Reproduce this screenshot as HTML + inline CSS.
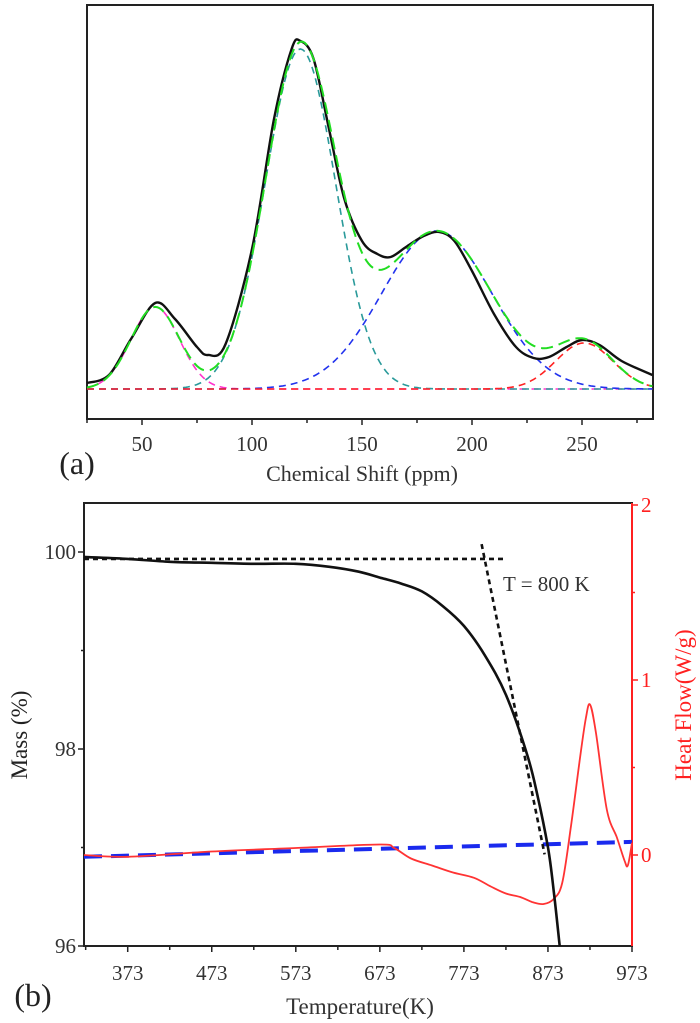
<!DOCTYPE html>
<html><head><meta charset="utf-8">
<style>
html,body{margin:0;padding:0;background:#fff;}
svg{display:block;font-family:"Liberation Serif",serif;}
</style></head>
<body>
<svg id="fig" width="700" height="1023" viewBox="0 0 700 1023" xmlns="http://www.w3.org/2000/svg"></svg>
<script>
// ---------- Panel (a) data ----------
const nmrTicks = [50, 100, 150, 200, 250];
const nmrShift = [25,35,45,56,65,75,80,88,100,110,118,122,128,135,142,150,157,163,170,178,185,192,200,210,220,228,235,243,250,258,268,282];
const nmrIntensity = [6,14,50,86,70,42,34,45,140,270,340,348,330,260,190,148,135,132,142,153,157,148,118,75,42,31,32,42,49,44,28,14];
const peakCenters = [56, 122, 184, 251];
const peakAmps = [82, 340, 158, 46];
const peakSigmas = [11, 16, 25, 13];
const peakColors = ['#ff33cc', '#2a9a9a', '#2233ee', '#ff2222'];

// ---------- Panel (b) data ----------
const tempTicks = [373, 473, 573, 673, 773, 873, 973];
const massTicks = [96, 98, 100];
const heatTicks = [0, 1, 2];
const massT = [321,373,423,473,523,573,613,648,673,698,723,748,773,798,823,848,860,873,880,887];
const massVal = [99.95,99.93,99.9,99.89,99.88,99.88,99.85,99.8,99.74,99.68,99.6,99.45,99.25,98.95,98.55,97.95,97.55,97.0,96.55,96.0];
const tangentT = [321, 820, 794, 869];
const tangentM = [99.93, 99.93, 100.08, 96.93];
const baseT = [321, 973];
const baseH = [-0.01, 0.075];
const heatT = [321,373,473,573,673,690,710,735,760,785,805,823,840,855,868,880,890,900,911,918,923,930,943,955,964,968,973];
const heatVal = [0,-0.01,0.02,0.04,0.06,0.04,-0.02,-0.06,-0.1,-0.13,-0.18,-0.22,-0.24,-0.27,-0.28,-0.25,-0.16,0.15,0.55,0.78,0.86,0.7,0.26,0.1,-0.03,-0.06,0.07];

const NS = 'http://www.w3.org/2000/svg';
const svg = document.getElementById('fig');
function mk(tag, attrs, parent) {
  const e = document.createElementNS(NS, tag);
  for (const k in attrs) e.setAttribute(k, attrs[k]);
  (parent || svg).appendChild(e);
  return e;
}
function txt(s, attrs) { const t = mk('text', attrs); t.textContent = s; return t; }
function pathD(xs, ys) { return xs.map((v, i) => (i ? 'L' : 'M') + v.toFixed(1) + ',' + ys[i].toFixed(1)).join(''); }
function smoothD(xs, ys) {
  let d = 'M' + xs[0].toFixed(1) + ',' + ys[0].toFixed(1);
  for (let i = 0; i < xs.length - 1; i++) {
    const x0 = xs[Math.max(i - 1, 0)], y0 = ys[Math.max(i - 1, 0)];
    const x1 = xs[i], y1 = ys[i], x2 = xs[i + 1], y2 = ys[i + 1];
    const x3 = xs[Math.min(i + 2, xs.length - 1)], y3 = ys[Math.min(i + 2, xs.length - 1)];
    const c1x = x1 + (x2 - x0) / 6, c1y = y1 + (y2 - y0) / 6;
    const c2x = x2 - (x3 - x1) / 6, c2y = y2 - (y3 - y1) / 6;
    d += 'C' + c1x.toFixed(1) + ',' + c1y.toFixed(1) + ' ' + c2x.toFixed(1) + ',' + c2y.toFixed(1) + ' ' + x2.toFixed(1) + ',' + y2.toFixed(1);
  }
  return d;
}

// ---------- Panel (a) ----------
const aL = 87, aR = 653, aT = 5, aB = 419, aBase = 389;
const ax = p => aL + (p - 25) * 2.2;
const ay = v => aBase - v;
const gauss = (x, i) => peakAmps[i] * Math.exp(-Math.pow(x - peakCenters[i], 2) / (2 * peakSigmas[i] * peakSigmas[i]));
const grid = [];
for (let p = 25; p <= 282; p += 1) grid.push(p);

let e;
e = mk('rect', {x: aL, y: aT, width: aR - aL, height: aB - aT, fill: 'none', stroke: '#222', 'stroke-width': 2});



peakCenters.forEach((c, i) => {
  const ys = grid.map(p => ay(gauss(p, i)));
  const pth = mk('path', {d: pathD(grid.map(ax), ys), fill: 'none', stroke: peakColors[i], 'stroke-width': 1.6, 'stroke-dasharray': '7,5'});
  
  
});
const expPath = mk('path', {d: smoothD(nmrShift.map(ax), nmrIntensity.map(ay)), fill: 'none', stroke: '#111', 'stroke-width': 2.4, 'stroke-linejoin': 'round'});


const fitYs = grid.map(p => ay(peakCenters.reduce((s, c, i) => s + gauss(p, i), 0)));
const fitPath = mk('path', {d: pathD(grid.map(ax), fitYs), fill: 'none', stroke: '#22dd22', 'stroke-width': 2, 'stroke-dasharray': '12,6'});



for (let p = 25; p <= 275; p += 25) {
  const t = mk('line', {x1: ax(p), x2: ax(p), y1: aB, y2: aB + (p % 50 === 0 ? 6 : 4), stroke: '#222', 'stroke-width': 1.5});
  
  
}
nmrTicks.forEach(p => {
  const t = txt(String(p), {x: ax(p), y: 451, 'text-anchor': 'middle', 'font-size': 21, fill: '#333'});
  
  
});
e = txt('Chemical Shift (ppm)', {x: 362, y: 481, 'text-anchor': 'middle', 'font-size': 22, fill: '#333'});


e = txt('(a)', {x: 77, y: 474, 'text-anchor': 'middle', 'font-size': 32, fill: '#222'});



// ---------- Panel (b) ----------
const bL = 84, bR = 632, bT = 503, bB = 946;
const bx = t => bL + (t - 321) * (bR - bL) / (973 - 321);
const bym = m => 946 - (m - 96) * 98.5;
const byh = h => 855 - h * 175;

e = mk('rect', {x: bL, y: bT, width: bR - bL, height: bB - bT, fill: 'none', stroke: '#222', 'stroke-width': 2});


e = mk('line', {x1: bR, x2: bR, y1: bT, y2: bB, stroke: '#ff2020', 'stroke-width': 2});



for (let t = 323; t <= 973; t += 50) {
  const l = mk('line', {x1: bx(t), x2: bx(t), y1: bB, y2: bB + ((t - 373) % 100 === 0 ? 6 : 4), stroke: '#222', 'stroke-width': 1.5});
  
  
}
tempTicks.forEach(t => {
  const l = txt(String(t), {x: bx(t), y: 980, 'text-anchor': 'middle', 'font-size': 21, fill: '#333'});
  
  
});
for (let m = 96; m <= 100; m += 1) {
  const l = mk('line', {x1: bL, x2: bL - (m % 2 === 0 ? 6 : 3), y1: bym(m), y2: bym(m), stroke: '#222', 'stroke-width': 1.5});
  
  
}
massTicks.forEach(m => {
  const l = txt(String(m), {x: bL - 8, y: bym(m) + 7, 'text-anchor': 'end', 'font-size': 21, fill: '#333'});
  
  
});
for (let h = 0; h <= 2; h += 0.5) {
  const l = mk('line', {x1: bR, x2: bR + (h % 1 === 0 ? 6 : 3), y1: byh(h), y2: byh(h), stroke: '#ff2020', 'stroke-width': 1.5});
  
  
}
heatTicks.forEach(h => {
  const l = txt(String(h), {x: bR + 9, y: byh(h) + 7, 'text-anchor': 'start', 'font-size': 21, fill: '#ff2020'});
  
  
});

e = mk('path', {d: pathD(baseT.map(bx), baseH.map(byh)), fill: 'none', stroke: '#1a2aee', 'stroke-width': 4, 'stroke-dasharray': '18,9'});


e = mk('path', {d: smoothD(heatT.map(bx), heatVal.map(byh)), fill: 'none', stroke: '#ff3333', 'stroke-width': 1.8, 'stroke-linejoin': 'round'});


e = mk('path', {d: smoothD(massT.map(bx), massVal.map(bym)), fill: 'none', stroke: '#111', 'stroke-width': 2.6, 'stroke-linejoin': 'round'});


e = mk('path', {d: pathD(tangentT.slice(0, 2).map(bx), tangentM.slice(0, 2).map(bym)), fill: 'none', stroke: '#111', 'stroke-width': 2.6, 'stroke-dasharray': '5,4'});


e = mk('path', {d: pathD(tangentT.slice(2).map(bx), tangentM.slice(2).map(bym)), fill: 'none', stroke: '#111', 'stroke-width': 2.6, 'stroke-dasharray': '5,4'});



e = txt('T = 800 K', {x: 503, y: 591, 'font-size': 21, fill: '#333'});


e = txt('Mass (%)', {x: 0, y: 0, 'text-anchor': 'middle', 'font-size': 23, fill: '#222', transform: 'translate(27,735) rotate(-90)'});


e = txt('Heat Flow(W/g)', {x: 0, y: 0, 'text-anchor': 'middle', 'font-size': 23, fill: '#ff2020', transform: 'translate(691,705) rotate(-90)'});


e = txt('Temperature(K)', {x: 360, y: 1014, 'text-anchor': 'middle', 'font-size': 23, fill: '#333'});


e = txt('(b)', {x: 33, y: 1006, 'text-anchor': 'middle', 'font-size': 32, fill: '#222'});


</script>
</body></html>
